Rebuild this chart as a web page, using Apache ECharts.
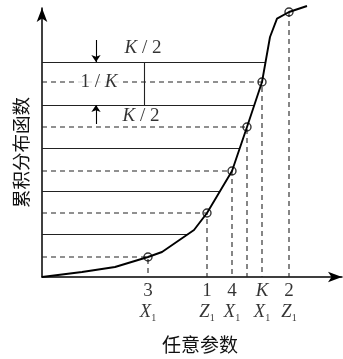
<!DOCTYPE html>
<html><head><meta charset="utf-8">
<script src="https://cdn.jsdelivr.net/npm/echarts@6/dist/echarts.min.js"></script>
<style>html,body{margin:0;padding:0;background:#fff}#c{width:343px;height:359px}</style>
</head><body><div id="c"></div>
<script>
// Cumulative distribution curve (x: arbitrary parameter, y: band units, one band = 1/K)
const curveX = [0, 40, 73, 106, 120, 152, 165, 190, 205, 220, 228, 235, 247, 265];
const curveY = [0, 0.116, 0.233, 0.465, 0.581, 1.093, 1.488, 2.465, 3.488, 4.535, 5.581, 6.01, 6.163, 6.302];
// Sample points (circles)
const pointX = [106, 165, 190, 205, 220, 247];
const pointY = [0.465, 1.488, 2.465, 3.488, 4.535, 6.163];
// Solid band boundaries
const solidLevels = [1, 2, 3, 4, 5];
// Tick labels under x axis
const tickX = [106, 165, 190, 220, 247];
const tickTop = ['3', '1', '4', 'K', '2'];
const tickVar = ['X', 'Z', 'X', 'X', 'Z'];
const tickSub = ['1', '1', '1', '1', '1'];

const serif = 'Liberation Serif, DejaVu Serif, serif';
const cjk = 'Noto Sans CJK SC, sans-serif';

function curveAt(y) {
  for (let i = 0; i < curveY.length - 1; i++) {
    if (y >= curveY[i] && y <= curveY[i + 1]) {
      const t = (y - curveY[i]) / (curveY[i + 1] - curveY[i]);
      return curveX[i] + t * (curveX[i + 1] - curveX[i]);
    }
  }
  return curveX[curveX.length - 1];
}

const solidData = solidLevels.map(l => ({ coords: [[0, l], [curveAt(l), l]] }));
solidData.push({ coords: [[102, 4], [102, 5]] });

const dashedData = pointX.map((x, i) => {
  if (i < 5) return { coords: [[0, pointY[i]], [x, pointY[i]], [x, 0]] };
  return { coords: [[x, pointY[i]], [x, 0]] };
});

const chart = echarts.init(document.getElementById('c'), null, { renderer: 'canvas' });
chart.setOption({
  animation: false,
  backgroundColor: '#fff',
  grid: { left: 42, top: 8, width: 300, height: 269 },
  xAxis: {
    type: 'value', min: 0, max: 300,
    axisLine: { show: true, symbol: ['none', 'arrow'], symbolSize: [8, 14], lineStyle: { color: '#000', width: 1.5 } },
    axisTick: { show: false }, axisLabel: { show: false }, splitLine: { show: false },
    name: '任意参数', nameLocation: 'middle', nameGap: 58,
    nameTextStyle: { fontFamily: cjk, fontSize: 19, color: '#111', padding: [0, 0, 0, 16] }
  },
  yAxis: {
    type: 'value', min: 0, max: 269 / 43,
    axisLine: { show: true, symbol: ['none', 'arrow'], symbolSize: [8, 14], lineStyle: { color: '#000', width: 1.5 } },
    axisTick: { show: false }, axisLabel: { show: false }, splitLine: { show: false },
    name: '累积分布函数', nameLocation: 'middle', nameGap: 12, nameRotate: 90,
    nameTextStyle: { fontFamily: cjk, fontSize: 18.5, color: '#111', padding: [0, 20, 0, 0] }
  },
  series: [
    {
      type: 'lines', coordinateSystem: 'cartesian2d', polyline: false, silent: true,
      lineStyle: { color: '#222', width: 1.1, opacity: 1 },
      data: solidData
    },
    {
      type: 'lines', coordinateSystem: 'cartesian2d', polyline: true, silent: true,
      lineStyle: { color: '#222', width: 1.1, type: [5, 4], opacity: 1 },
      data: dashedData
    },
    {
      type: 'line', clip: false, symbol: 'none', silent: true,
      lineStyle: { color: '#000', width: 1.9 },
      data: curveX.map((x, i) => [x, curveY[i]]),
      z: 3
    },
    {
      type: 'scatter', symbol: 'circle', symbolSize: 8, silent: true,
      itemStyle: { color: 'rgba(255,255,255,0)', borderColor: '#000', borderWidth: 1.4 },
      data: pointX.map((x, i) => [x, pointY[i]]),
      z: 4
    },
    {
      type: 'lines', coordinateSystem: 'cartesian2d', silent: true,
      symbol: ['none', 'arrow'], symbolSize: 7,
      lineStyle: { color: '#000', width: 1.1, opacity: 1 },
      data: [
        { coords: [[54, 5.51], [54, 5.0]] },
        { coords: [[54, 3.56], [54, 4.0]] }
      ]
    },
    {
      type: 'scatter', symbolSize: 0, silent: true, z: 5,
      label: {
        show: true, position: 'inside', color: '#000',
        formatter: p => p.data.t,
        rich: {
          i: { fontFamily: serif, fontSize: 19, fontStyle: 'italic', color: '#000' },
          r: { fontFamily: serif, fontSize: 19, color: '#000' }
        }
      },
      data: [
        { value: [101, 5.33], t: '{i|K}{r| / 2}' },
        { value: [57, 4.535], t: '{r|1 / }{i|K}', label: { backgroundColor: '#fff', padding: [0, 4] } },
        { value: [99, 3.74], t: '{i|K}{r| / 2}' }
      ]
    },
    {
      type: 'scatter', symbolSize: 0, silent: true,
      label: {
        show: true, position: 'bottom', distance: 4, color: '#000',
        formatter: p => {
          const i = p.dataIndex;
          const top = /[A-Za-z]/.test(tickTop[i]) ? '{k|' + tickTop[i] + '}' : '{n|' + tickTop[i] + '}';
          return top + '\n{v|' + tickVar[i] + '}{s|' + tickSub[i] + '}';
        },
        rich: {
          n: { fontFamily: serif, fontSize: 19, lineHeight: 21, color: '#000' },
          k: { fontFamily: serif, fontSize: 19, lineHeight: 21, fontStyle: 'italic', color: '#000' },
          v: { fontFamily: serif, fontSize: 18.5, lineHeight: 21, fontStyle: 'italic', color: '#000' },
          s: { fontFamily: serif, fontSize: 10, lineHeight: 21, verticalAlign: 'bottom', color: '#000' }
        }
      },
      data: tickX.map(x => [x, 0])
    }
  ]
});
</script>
</body></html>
